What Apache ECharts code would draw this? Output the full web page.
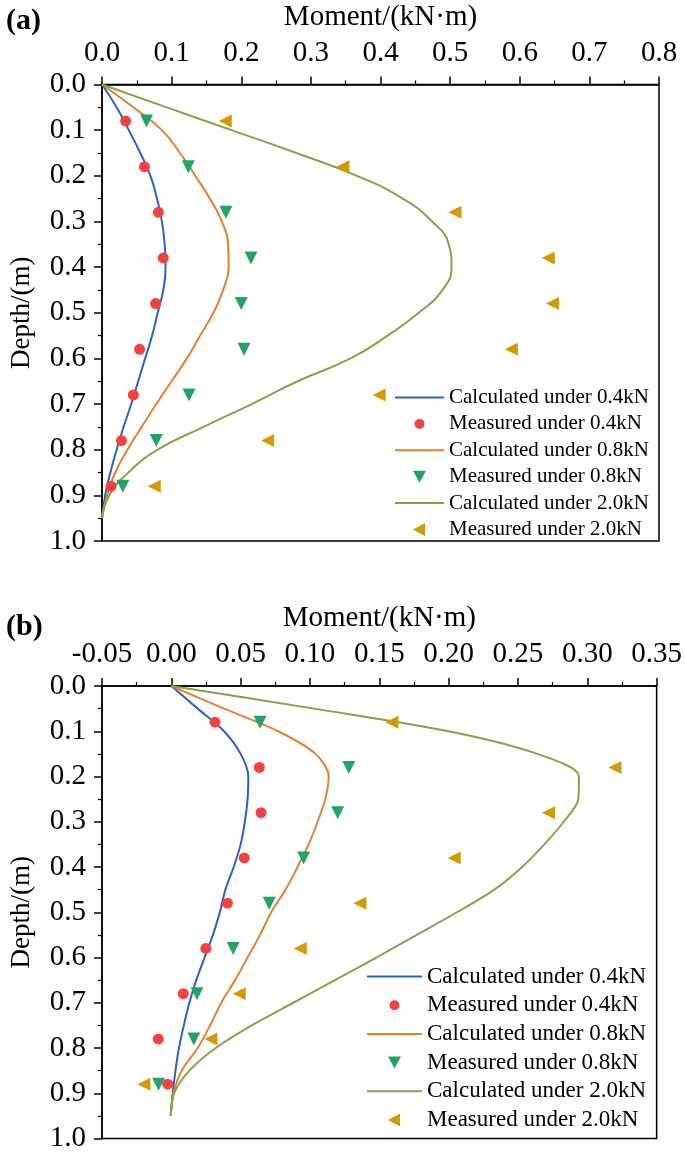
<!DOCTYPE html>
<html>
<head>
<meta charset="utf-8">
<script src="https://cdn.jsdelivr.net/npm/echarts@6/dist/echarts.min.js"></script>
<style>
html,body{margin:0;padding:0;background:#fff;}
#chart{width:685px;height:1153px;}
</style>
</head>
<body>
<div id="chart"></div>
<script>
// ---------- data ----------
const depthCalc = [0, 0.05, 0.1, 0.15, 0.2, 0.25, 0.3, 0.35, 0.4, 0.45, 0.5, 0.55, 0.6, 0.65, 0.7, 0.75, 0.8, 0.85, 0.9, 0.95];
const depthMeas = [0.08, 0.18, 0.28, 0.38, 0.48, 0.58, 0.68, 0.78, 0.88];

// panel (a)
const calcA04 = [0, 0.021, 0.0385, 0.055, 0.0696, 0.079, 0.086, 0.090, 0.0913, 0.088, 0.080, 0.072, 0.062, 0.052, 0.042, 0.031, 0.021, 0.012, 0.0045, 0];
const calcA08 = [0, 0.045, 0.086, 0.112, 0.134, 0.155, 0.172, 0.181, 0.182, 0.174, 0.160, 0.141, 0.122, 0.100, 0.078, 0.057, 0.0365, 0.019, 0.0073, 0];
const calcA20 = [0, 0.093, 0.186, 0.279, 0.366, 0.432, 0.474, 0.498, 0.502, 0.489, 0.455, 0.410, 0.357, 0.281, 0.215, 0.146, 0.080, 0.038, 0.0105, 0];
const measA04 = [0.034, 0.061, 0.081, 0.088, 0.077, 0.054, 0.045, 0.028, 0.013];
const measA08 = [0.064, 0.124, 0.178, 0.214, 0.200, 0.204, 0.125, 0.078, 0.030];
const measA20 = [0.177, 0.346, 0.507, 0.641, 0.647, 0.588, 0.398, 0.238, 0.075];

// panel (b)
const calcB04 = [0, 0.019, 0.038, 0.050, 0.0555, 0.055, 0.053, 0.050, 0.045, 0.039, 0.035, 0.030, 0.024, 0.018, 0.013, 0.009, 0.0055, 0.003, 0.001, -0.0004];
const calcB08 = [0, 0.038, 0.077, 0.104, 0.1135, 0.111, 0.1055, 0.099, 0.091, 0.0824, 0.072, 0.064, 0.055, 0.046, 0.036, 0.028, 0.019, 0.0075, 0.0015, -0.0005];
const calcB20 = [0, 0.103, 0.200, 0.264, 0.294, 0.2935, 0.283, 0.269, 0.253, 0.233, 0.206, 0.177, 0.148, 0.118, 0.088, 0.058, 0.032, 0.013, 0.002, -0.0004];
const measB04 = [0.0315, 0.0635, 0.0647, 0.0526, 0.0405, 0.0249, 0.0086, -0.0094, -0.0026];
const measB08 = [0.064, 0.128, 0.120, 0.0954, 0.0706, 0.0446, 0.0185, 0.0162, -0.0092];
const measB20 = [0.159, 0.320, 0.272, 0.204, 0.136, 0.093, 0.049, 0.0285, -0.0198];

const names = ['Calculated under 0.4kN', 'Measured under 0.4kN', 'Calculated under 0.8kN',
               'Measured under 0.8kN', 'Calculated under 2.0kN', 'Measured under 2.0kN'];
const xTitle = 'Moment/(kN\u00B7m)';
const yTitle = 'Depth/(m)';

// ---------- styling ----------
const FONT = '"Liberation Serif", "Times New Roman", serif';
const C_BLUE = '#2a62c4', C_RED = '#f5413f', C_ORANGE = '#e4802f', C_GREEN = '#23a467', C_OLIVE = '#86a445', C_GOLD = '#d49b00';

function zip(vals, depths){ return vals.map((v,i)=>[v, depths[i]]); }

function xAxisCfg(grid, min, max, interval, dec){
  return {
    type:'value', gridIndex:grid, position:'top', min:min, max:max, interval:interval,
    name:xTitle, nameLocation:'middle', nameGap:53,
    nameTextStyle:{fontFamily:FONT, fontSize:29, color:'#000'},
    axisLine:{show:true, onZero:false, lineStyle:{color:'#000', width:1.5}},
    axisTick:{show:true, inside:false, length:8, lineStyle:{color:'#000', width:1.5}},
    minorTick:{show:true, splitNumber:2, length:4, lineStyle:{color:'#000', width:1.2}},
    splitLine:{show:false},
    axisLabel:{fontFamily:FONT, fontSize:29, color:'#000', margin:17,
      formatter:v=>v.toFixed(dec)}
  };
}
function yAxisCfg(grid){
  return {
    type:'value', gridIndex:grid, inverse:true, min:0, max:1.0, interval:0.1,
    name:yTitle, nameLocation:'middle', nameGap:67,
    nameTextStyle:{fontFamily:FONT, fontSize:27, color:'#000'},
    axisLine:{show:true, onZero:false, lineStyle:{color:'#000', width:1.5}},
    axisTick:{show:true, inside:false, length:8, lineStyle:{color:'#000', width:1.5}},
    minorTick:{show:true, splitNumber:2, length:4, lineStyle:{color:'#000', width:1.2}},
    splitLine:{show:false},
    axisLabel:{fontFamily:FONT, fontSize:29, color:'#000', margin:16,
      formatter:v=>v.toFixed(1)}
  };
}
function lineS(name, vals, color, idx, smooth){
  return {type:'line', name:name, xAxisIndex:idx, yAxisIndex:idx, data:zip(vals, depthCalc),
    symbol:'none', smooth:smooth, lineStyle:{color:color, width:2}, itemStyle:{color:color}, z:2};
}
function scatS(name, vals, color, symbol, rot, idx){
  return {type:'scatter', name:name, xAxisIndex:idx, yAxisIndex:idx, data:zip(vals, depthMeas),
    symbol:symbol, symbolRotate:rot, symbolSize:symbol==='circle'?11:13,
    itemStyle:{color:color, opacity:1}, z:3};
}
// legend icons drawn inside a box of exactly w x h (corner points fix the box)
function iconBox(w, h, body){ return 'path://M0,0L0,0Z M' + w + ',' + h + 'L' + w + ',' + h + 'Z ' + body; }
function legendCfg(left, top, fs, iw, gap){
  const h = 13, c = iw / 2, m = h / 2;
  const lineIcon = iconBox(iw, h, 'M0,' + (m-1) + 'L' + iw + ',' + (m-1) + 'L' + iw + ',' + (m+1) + 'L0,' + (m+1) + 'Z');
  const dotIcon = iconBox(iw, h, 'M' + (c-5) + ',' + m + 'A5,5 0 1,0 ' + (c+5) + ',' + m + 'A5,5 0 1,0 ' + (c-5) + ',' + m + 'Z');
  const downIcon = iconBox(iw, h, 'M' + (c-6.5) + ',0.5L' + (c+6.5) + ',0.5L' + c + ',12.5Z');
  const leftIcon = iconBox(iw, h, 'M' + (c+5.5) + ',0L' + (c+5.5) + ',13L' + (c-6.5) + ',6.5Z');
  const icons = [lineIcon, dotIcon, lineIcon, downIcon, lineIcon, leftIcon];
  return {orient:'vertical', left:left, top:top, itemWidth:iw, itemHeight:h, itemGap:gap,
    symbolRotate:0, selectedMode:false,
    data:names.map((n,i)=>({name:n, icon:icons[i]})),
    textStyle:{fontFamily:FONT, fontSize:fs, color:'#000'}};
}

const option = {
  animation:false,
  backgroundColor:'#fff',
  title:[
    {text:'(a)', left:1, top:1, textStyle:{fontFamily:FONT, fontSize:30, fontWeight:'bold', color:'#000'}},
    {text:'(b)', left:1, top:607, textStyle:{fontFamily:FONT, fontSize:30, fontWeight:'bold', color:'#000'}}
  ],
  grid:[
    {left:93.5, top:84.5, width:565.5, height:456.5, show:true, borderColor:'#000', borderWidth:1.5, backgroundColor:'transparent'},
    {left:93.5, top:686, width:563.5, height:453, show:true, borderColor:'#000', borderWidth:1.5, backgroundColor:'transparent'}
  ],
  xAxis:[ xAxisCfg(0, 0, 0.8, 0.1, 1), xAxisCfg(1, -0.05, 0.35, 0.05, 2) ],
  yAxis:[ yAxisCfg(0), yAxisCfg(1) ],
  legend:[ legendCfg(390, 382, 21, 49, 5.4), legendCfg(362, 960, 23, 55, 5.7) ],
  series:[
    lineS(names[0], calcA04, C_BLUE, 0, true),
    scatS(names[1], measA04, C_RED, 'circle', 0, 0),
    lineS(names[2], calcA08, C_ORANGE, 0, true),
    scatS(names[3], measA08, C_GREEN, 'triangle', 180, 0),
    lineS(names[4], calcA20, C_OLIVE, 0, true),
    scatS(names[5], measA20, C_GOLD, 'triangle', 90, 0),
    lineS(names[0], calcB04, C_BLUE, 1, 0.3),
    scatS(names[1], measB04, C_RED, 'circle', 0, 1),
    lineS(names[2], calcB08, C_ORANGE, 1, 0.3),
    scatS(names[3], measB08, C_GREEN, 'triangle', 180, 1),
    lineS(names[4], calcB20, C_OLIVE, 1, 0.3),
    scatS(names[5], measB20, C_GOLD, 'triangle', 90, 1)
  ]
};
const chart = echarts.init(document.getElementById('chart'), null, {renderer:'canvas'});
chart.setOption(option);
</script>
</body>
</html>
